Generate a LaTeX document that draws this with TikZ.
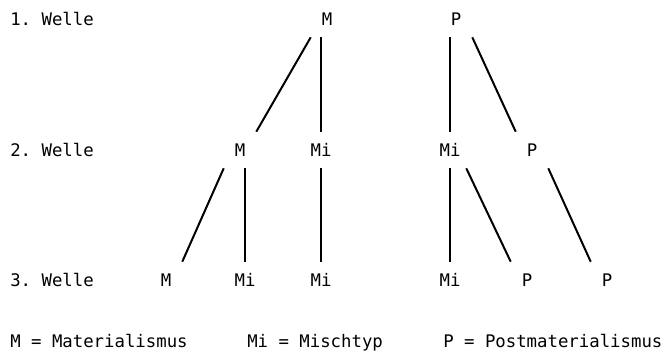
\documentclass[tikz,border=0pt]{standalone}
\usepackage{fontspec}
\setmonofont{DejaVu Sans Mono}
\usepackage{tikz}
\tikzset{
    welle_lbl/.style={
        inner sep=0pt, anchor=west,
        font=\ttfamily\fontsize{13}{15}\selectfont
    },
    typ_node/.style={
        rectangle, inner sep=0pt, minimum width=24, minimum height=27,
        font=\ttfamily\fontsize{13}{15}\selectfont
    },
    legende/.style={
        inner sep=0pt, anchor=base west,
        font=\ttfamily\fontsize{13}{15}\selectfont
    },
    ast/.style={
        draw=black, line width=1.5pt
    }
}
\begin{document}
\begin{tikzpicture}[x=0.75pt, y=-0.75pt]
\useasboundingbox (0,0) rectangle (664,353);

% Wellen
\node[welle_lbl] (w1) at (10,19) {1. Welle};
\node[welle_lbl] (w2) at (10,150) {2. Welle};
\node[welle_lbl] (w3) at (10,280) {3. Welle};

% 1. Welle
\node[typ_node] (m1) at (327,19) {M};
\node[typ_node] (p1) at (456,19) {P};

% 2. Welle
\node[typ_node] (m2) at (240,150) {M};
\node[typ_node] (mi2a) at (321,150) {Mi};
\node[typ_node] (mi2b) at (450,150) {Mi};
\node[typ_node] (p2) at (532,150) {P};

% 3. Welle
\node[typ_node] (m3) at (166,280) {M};
\node[typ_node] (mi3a) at (245,280) {Mi};
\node[typ_node] (mi3b) at (321,280) {Mi};
\node[typ_node] (mi3c) at (450,280) {Mi};
\node[typ_node] (p3a) at (527,280) {P};
\node[typ_node] (p3b) at (607,280) {P};

\draw[ast] (m1.south west) -- (m2.north east);
\draw[ast] (mi2a |- m1.south) -- (mi2a.north);
\draw[ast] (m2.south west) -- (m3.north east);
\draw[ast] (mi3a |- m2.south) -- (mi3a.north);
\draw[ast] (mi2a.south) -- (mi3b.north);

\draw[ast] (mi2b |- p1.south) -- (mi2b.north);
\draw[ast] (p1.south east) -- (p2.north west);
\draw[ast] (mi2b.south) -- (mi3c.north);
\draw[ast] (mi2b.south east) -- (p3a.north west);
\draw[ast] (p2.south east) -- (p3b.north west);

% Legende
\node[legende] (lm) at (10,347) {M = Materialismus};
\node[legende] (lmi) at (247,347) {Mi = Mischtyp};
\node[legende] (lp) at (443,347) {P = Postmaterialismus};
\end{tikzpicture}
\end{document}
